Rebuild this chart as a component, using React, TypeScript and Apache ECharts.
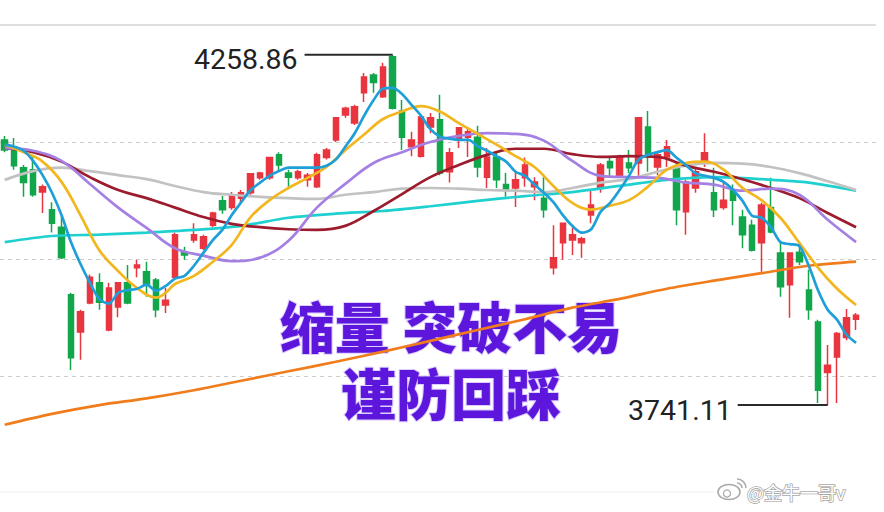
import React, { useEffect, useRef } from "react";
import * as echarts from "echarts";

// [open, close, low, high]
const candles: number[][] = [
  [4133, 4118, 4115, 4139], [4118, 4095, 4089, 4136], [4092, 4070, 4049, 4096], [4089, 4052, 4049, 4108],
  [4056, 4064, 4025, 4067], [4030, 4010, 3996, 4041], [4004, 3959, 3957, 4022], [3904, 3811, 3793, 3907],
  [3849, 3879, 3808, 3882], [3892, 3930, 3890, 3934], [3922, 3893, 3882, 3936], [3852, 3914, 3850, 3922],
  [3886, 3922, 3871, 3923], [3922, 3892, 3890, 3948], [3944, 3948, 3930, 3956], [3938, 3919, 3901, 3953],
  [3926, 3882, 3871, 3929], [3889, 3896, 3877, 3914], [3930, 3993, 3928, 3996], [3967, 3963, 3956, 3975],
  [3985, 3993, 3981, 4010], [3973, 3990, 3970, 3993], [4007, 4025, 4004, 4027], [4043, 4030, 4024, 4050],
  [4033, 4052, 4030, 4056], [4047, 4055, 4040, 4059], [4055, 4083, 4052, 4084], [4077, 4084, 4074, 4086],
  [4077, 4107, 4074, 4108], [4111, 4096, 4086, 4115], [4084, 4078, 4064, 4089], [4077, 4086, 4074, 4089],
  [4074, 4081, 4064, 4084], [4064, 4111, 4062, 4114], [4107, 4118, 4104, 4121], [4133, 4166, 4130, 4167],
  [4170, 4180, 4166, 4182], [4158, 4182, 4155, 4185], [4203, 4226, 4189, 4232], [4229, 4218, 4203, 4232],
  [4197, 4241, 4195, 4247], [4256, 4180, 4178, 4258.86], [4176, 4137, 4118, 4192], [4123, 4133, 4109, 4145],
  [4109, 4167, 4107, 4170], [4152, 4166, 4143, 4173], [4163, 4084, 4081, 4200], [4086, 4114, 4070, 4121],
  [4133, 4151, 4121, 4152], [4137, 4145, 4108, 4151], [4137, 4093, 4078, 4154], [4078, 4108, 4062, 4121],
  [4108, 4074, 4062, 4114], [4067, 4059, 4049, 4084], [4062, 4074, 4034, 4086], [4077, 4096, 4064, 4107],
  [4064, 4071, 4044, 4078], [4047, 4030, 4018, 4078], [3944, 3959, 3934, 4007], [3981, 4010, 3956, 4011],
  [3985, 3993, 3963, 4004], [3981, 3987, 3959, 3990], [4022, 4037, 4010, 4059], [4062, 4096, 4055, 4099],
  [4101, 4092, 4077, 4107], [4078, 4108, 4077, 4111], [4099, 4092, 4084, 4118], [4099, 4166, 4077, 4167],
  [4152, 4111, 4086, 4176], [4093, 4111, 4081, 4115], [4108, 4123, 4093, 4133], [4093, 4030, 4007, 4099],
  [4027, 4071, 3993, 4074], [4062, 4086, 4055, 4093], [4099, 4114, 4093, 4143], [4055, 4030, 4019, 4092],
  [4033, 4044, 4030, 4071], [4059, 4044, 4007, 4067], [4019, 3993, 3973, 4030], [4007, 3970, 3968, 4015],
  [3981, 4037, 3938, 4040], [4033, 3997, 3995, 4077], [3966, 3916, 3901, 3981], [3919, 3966, 3870, 3967],
  [3967, 3953, 3948, 3981], [3911, 3882, 3867, 3941], [3864, 3763, 3744, 3867], [3789, 3800, 3741.11, 3830],
  [3812, 3847, 3744, 3849], [3841, 3870, 3837, 3883], [3868, 3874, 3852, 3877],
];

const categories: string[] = candles.map((_, i) => "K" + (i + 1));

const ma5: number[] = [
  4126, 4123, 4117, 4102, 4081, 4055, 4022, 3982, 3950, 3922,
  3898, 3891, 3907, 3911, 3913, 3919, 3910, 3917, 3928, 3932,
  3947, 3966, 3985, 4000, 4022, 4041, 4059, 4070, 4080, 4087,
  4092, 4092, 4092, 4092, 4095, 4104, 4123, 4143, 4169, 4192,
  4209, 4210, 4201, 4185, 4169, 4149, 4138, 4135, 4133, 4133,
  4124, 4117, 4109, 4101, 4086, 4080, 4067, 4055, 4041, 4022,
  4006, 3996, 4001, 4027, 4040, 4059, 4080, 4104, 4111, 4115,
  4118, 4107, 4096, 4084, 4080, 4077, 4071, 4059, 4043, 4021,
  4018, 4004, 3982, 3979, 3976, 3947, 3910, 3882, 3867, 3845,
  3833,
];

const ma10: number[][] = [
  [0, 4126], [2, 4115], [4, 4101], [6, 4071], [8, 4022], [10, 3970], [12, 3939], [14, 3914],
  [16, 3900], [17, 3907], [18, 3920], [20, 3932], [22, 3953], [24, 3978], [26, 4019], [28, 4044],
  [30, 4062], [32, 4077], [34, 4093], [36, 4118], [38, 4141], [40, 4164], [42, 4175], [44, 4183],
  [46, 4175], [48, 4158], [50, 4142], [52, 4126], [54, 4109], [56, 4093], [58, 4065], [60, 4040],
  [62, 4030], [64, 4036], [66, 4044], [68, 4064], [70, 4089], [72, 4099], [74, 4101], [76, 4089],
  [78, 4062], [80, 4044], [82, 4018], [84, 3981], [86, 3944], [88, 3913], [90, 3889],
];

const ma20: number[][] = [
  [0, 4121], [3, 4117], [6, 4102], [9, 4068], [12, 4033], [15, 4003], [18, 3973], [21, 3962],
  [24, 3954], [27, 3959], [30, 3984], [33, 4033], [36, 4068], [39, 4099], [42, 4115], [45, 4130],
  [48, 4139], [51, 4143], [54, 4142], [57, 4132], [60, 4102], [63, 4080], [66, 4078], [69, 4077],
  [72, 4070], [75, 4067], [78, 4058], [81, 4061], [84, 4052], [87, 4015], [90, 3982],
];

const ma30: number[][] = [
  [0, 4121], [3, 4115], [6, 4101], [9, 4078], [12, 4059], [15, 4047], [18, 4033], [21, 4019],
  [24, 4009], [27, 4004], [30, 4001], [33, 4000], [36, 4006], [39, 4028], [42, 4053], [45, 4078],
  [48, 4096], [51, 4111], [54, 4120], [57, 4120], [60, 4112], [63, 4108], [66, 4109], [69, 4108],
  [72, 4095], [75, 4086], [78, 4075], [81, 4062], [84, 4047], [87, 4025], [90, 4004],
];

const ma60: number[][] = [
  [0, 4074], [3, 4087], [6, 4092], [9, 4087], [12, 4081], [15, 4075], [18, 4065], [21, 4056],
  [24, 4052], [27, 4049], [30, 4047], [33, 4046], [36, 4052], [39, 4056], [42, 4061], [45, 4062],
  [48, 4061], [51, 4059], [54, 4058], [57, 4056], [60, 4062], [63, 4070], [66, 4075], [69, 4086],
  [72, 4095], [75, 4099], [78, 4098], [81, 4093], [84, 4084], [87, 4072], [90, 4059],
];

const ma120: number[][] = [
  [0, 3982], [5, 3991], [10, 3993], [15, 3996], [20, 4000], [25, 4006], [30, 4018], [35, 4024],
  [40, 4028], [45, 4035], [50, 4043], [55, 4050], [60, 4056], [65, 4065], [70, 4074], [75, 4078],
  [80, 4075], [85, 4070], [90, 4058],
];

const ma250: number[][] = [
  [0, 3712], [5, 3728], [10, 3741], [15, 3751], [20, 3763], [25, 3777], [30, 3791], [35, 3805],
  [40, 3820], [45, 3836], [50, 3852], [55, 3868], [60, 3885], [65, 3898], [70, 3913], [75, 3925],
  [80, 3936], [85, 3947], [90, 3953],
];

const Y_MIN = 3611;
const Y_MAX = 4303;
const HIGH_INDEX = 41;
const HIGH_VALUE = 4258.86;
const LOW_INDEX = 87;
const LOW_VALUE = 3741.11;

const headlineLines = ["缩量 突破不易", "谨防回踩"];
const watermark = "@金牛一哥v";

export default function App() {
  const ref = useRef<HTMLDivElement>(null);

  useEffect(() => {
    if (!ref.current) return;
    const chart = echarts.init(ref.current, null, { renderer: "svg" });

    const line = (name: string, data: any[], color: string, smooth: number, z: number) => ({
      type: "line",
      name,
      data,
      xAxisIndex: 0,
      yAxisIndex: 0,
      showSymbol: false,
      symbol: "none",
      smooth,
      clip: true,
      silent: true,
      z,
      lineStyle: { color, width: 2.7 },
    });

    chart.setOption({
      animation: false,
      backgroundColor: "#ffffff",
      grid: [
        { left: -7.3, right: 23.2, top: 25, bottom: 19 },
        { left: 0, right: 8, top: 25, bottom: 19 },
      ],
      xAxis: [
        { type: "category", data: categories, gridIndex: 0, boundaryGap: true, show: false },
        { type: "value", gridIndex: 1, min: 0, max: 1, show: false },
      ],
      yAxis: [
        { type: "value", gridIndex: 0, min: Y_MIN, max: Y_MAX, show: false },
        {
          type: "value",
          gridIndex: 1,
          min: 0,
          max: 4,
          interval: 1,
          axisLine: { show: false },
          axisTick: { show: false },
          axisLabel: { show: false },
          splitLine: {
            show: true,
            showMinLine: false,
            showMaxLine: false,
            lineStyle: { color: "#cccccc", width: 1, type: [4, 4] },
          },
        },
      ],
      series: [
        {
          type: "candlestick",
          data: candles,
          xAxisIndex: 0,
          yAxisIndex: 0,
          barWidth: 6,
          z: 2,
          silent: true,
          itemStyle: {
            color: "#e8353f",
            color0: "#12a64b",
            borderColor: "#e8353f",
            borderColor0: "#12a64b",
            borderWidth: 1.5,
          },
        },
        line("MA250", ma250, "#f07c1c", 0.3, 3),
        line("MA120", ma120, "#1fd0d0", 0.3, 3),
        line("MA60", ma60, "#c2c2c2", 0.4, 3),
        line("MA30", ma30, "#9c1c2e", 0.4, 4),
        line("MA20", ma20, "#a480e2", 0.4, 4),
        line("MA10", ma10, "#f2b61e", 0.4, 5),
        line("MA5", ma5, "#1e9fd8", 0.3, 6),
      ],
    });

    const hp = chart.convertToPixel({ xAxisIndex: 0, yAxisIndex: 0 }, [HIGH_INDEX, HIGH_VALUE]) as number[];
    const lp = chart.convertToPixel({ xAxisIndex: 0, yAxisIndex: 0 }, [LOW_INDEX, LOW_VALUE]) as number[];

    const labelStyle = {
      fontSize: 28.5,
      fontFamily: "Roboto, 'DejaVu Sans', sans-serif",
      fill: "#222222",
      align: "right",
      textAlign: "right",
      verticalAlign: "middle",
      textVerticalAlign: "middle",
    };

    // headline drawn at 46px and scaled up to ~55px
    const HEAD_SCALE = 1.196;
    const headStyle = {
      fontSize: 46,
      fontWeight: 900,
      fontFamily: "'Noto Sans CJK SC', sans-serif",
      fill: "#5c16dc",
      stroke: "rgba(205,185,255,0.7)",
      lineWidth: 1.7,
      align: "center",
      textAlign: "center",
      verticalAlign: "middle",
      textVerticalAlign: "middle",
    };

    chart.setOption({
      graphic: [
        { type: "line", z: 1, shape: { x1: 0, y1: 25, x2: 876, y2: 25 }, style: { stroke: "#dedede", lineWidth: 2 } },
        { type: "line", z: 1, shape: { x1: 0, y1: 492, x2: 714, y2: 492 }, style: { stroke: "#eeeeee", lineWidth: 1.2 } },
        { type: "text", z: 1, x: 451, y: 324, scaleX: HEAD_SCALE, scaleY: HEAD_SCALE, style: { ...headStyle, text: headlineLines[0] } },
        { type: "text", z: 1, x: 451, y: 391, scaleX: HEAD_SCALE, scaleY: HEAD_SCALE, style: { ...headStyle, text: headlineLines[1] } },
        { type: "line", z: 10, shape: { x1: hp[0] - 88, y1: hp[1], x2: hp[0], y2: hp[1] }, style: { stroke: "#2a2a2a", lineWidth: 2 } },
        { type: "text", z: 10, x: hp[0] - 95, y: hp[1] + 5, style: { ...labelStyle, text: HIGH_VALUE.toFixed(2) } },
        { type: "line", z: 10, shape: { x1: lp[0] - 90, y1: lp[1], x2: lp[0], y2: lp[1] }, style: { stroke: "#2a2a2a", lineWidth: 2 } },
        { type: "text", z: 10, x: lp[0] - 96, y: lp[1] + 5, style: { ...labelStyle, text: LOW_VALUE.toFixed(2) } },
        { type: "ellipse", z: 10, shape: { cx: 729, cy: 492, rx: 11, ry: 7.5 }, style: { fill: "#ffffff", stroke: "#aaaaaa", lineWidth: 1.6 } },
        { type: "circle", z: 10, shape: { cx: 727, cy: 493.5, r: 3.5 }, style: { fill: "none", stroke: "#aaaaaa", lineWidth: 1.3 } },
        { type: "arc", z: 10, shape: { cx: 737, cy: 488, r: 5, startAngle: -Math.PI / 2, endAngle: 0 }, style: { fill: "none", stroke: "#aaaaaa", lineWidth: 1.5 } },
        { type: "arc", z: 10, shape: { cx: 737, cy: 488, r: 9, startAngle: -Math.PI / 2, endAngle: 0 }, style: { fill: "none", stroke: "#aaaaaa", lineWidth: 1.5 } },
        {
          type: "text",
          z: 10,
          x: 747,
          y: 492,
          style: {
            text: watermark,
            fontSize: 18,
            fontFamily: "'Noto Sans CJK SC', sans-serif",
            fill: "#ffffff",
            stroke: "#a8a8a8",
            lineWidth: 1.6,
            align: "left",
            textAlign: "left",
            verticalAlign: "middle",
            textVerticalAlign: "middle",
          },
        },
      ],
    });

    return () => chart.dispose();
  }, []);

  return (
    <div
      ref={ref}
      style={{ position: "fixed", left: 0, top: 0, width: 884, height: 512, background: "#ffffff" }}
    />
  );
}
